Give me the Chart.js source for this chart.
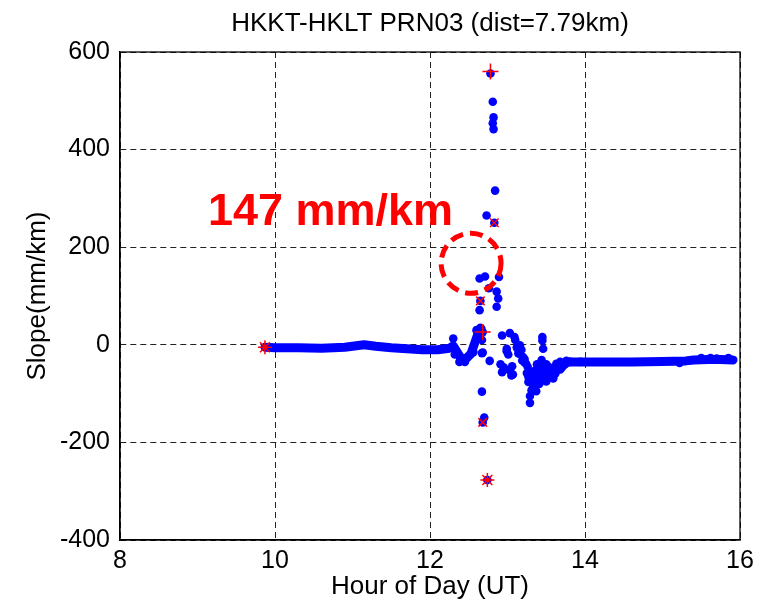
<!DOCTYPE html>
<html>
<head>
<meta charset="utf-8">
<script src="https://cdn.jsdelivr.net/npm/chart.js@4.4.0/dist/chart.umd.min.js"></script>
<style>
  html, body { margin: 0; padding: 0; background: #fff; }
  #wrap { width: 769px; height: 609px; }
</style>
</head>
<body>
<div id="wrap"><canvas id="myChart" width="769" height="609"></canvas></div>
<script>
// dense baseline trace before the event
const bandStartHours = [9.87, 10.0, 10.3, 10.6, 10.9, 11.05, 11.15, 11.3, 11.5, 11.7, 11.9, 12.1, 12.25, 12.3, 12.35, 12.4, 12.47, 12.53, 12.58, 12.63, 12.66];
const bandStartSlope = [-5, -6, -6, -7, -5, -2, 0, -3, -6, -8, -10, -10, -7, -2, -15, -28, -28, -18, 5, 28, 33];

// dense baseline trace after the event
const bandEndHours = [13.68, 13.72, 13.78, 13.9, 14.2, 14.6, 15.0, 15.3, 15.4, 15.6, 15.75, 15.91];
const bandEndSlope = [-50, -42, -35, -35, -35, -35, -34, -33, -31, -30, -30, -31];

// scattered single epochs
const scatterHours = [
    12.78, 12.81, 12.82, 12.81, 12.82, 12.84, 12.73, 12.83,
    12.64, 12.71, 12.89, 12.76, 12.86, 12.88, 12.65, 12.64, 12.86,
    12.68, 12.67, 12.67, 12.70, 12.68, 12.74,
    12.30, 12.32, 12.38, 12.45, 12.60, 12.65, 12.56, 12.68, 12.67,
    12.77, 12.93, 13.03, 13.09, 13.16, 12.99, 13.14, 13.22, 13.24, 12.95,
    12.93, 13.03, 13.07, 13.45, 13.45, 13.44, 13.27, 13.27, 13.35, 13.37,
    13.31, 13.40, 13.48, 13.55, 13.59, 13.55, 13.33, 13.31, 13.37, 13.29,
    13.29, 13.63, 13.68, 13.76, 12.99, 13.20, 13.05, 13.46, 13.46, 13.57,
    13.59, 13.72, 13.81, 13.94, 12.97, 13.10, 13.12, 13.18, 13.50, 13.52,
    13.42, 13.38, 13.62, 13.65, 13.26, 13.33, 13.41, 13.50, 13.60,
    13.36, 13.44, 13.53, 13.47, 13.58, 13.22,
    12.91, 13.01, 13.06, 13.13, 13.19, 13.25, 13.30, 13.39, 13.43, 13.54,
    15.22, 15.5, 15.62, 15.7, 15.85
];
const scatterSlope = [
    556, 498, 466, 454, 442, 316, 265, 250,
    136, 140, 139, 116, 109, 95, 90, 71, 78,
    26, -17, -96, -149, -159, -277,
    13, -20, -35, -35, 30, 35, -15, -16, 10,
    -33, 19, 24, 16, -1, -13, -18, -29, -39, -46,
    -56, -52, -61, 16, 9, -31, -66, -76, -76, -63,
    -56, -49, -46, -52, -66, -66, -83, -93, -95, -105,
    -119, -39, -35, -33, -8, -25, -63, -8, -59, -52,
    -69, -39, -35, -35, -50, 10, -5, -10, -40, -60,
    -55, -40, -58, -45, -45, -70, -80, -75, -55,
    -52, -68, -45, -72, -48, -36,
    -40, -20, -44, -8, -32, -58, -72, -64, -42, -58,
    -37, -27, -27, -28, -27
];

// red flagged epochs
const plusHours = [12.78, 12.68];
const plusSlope = [560, 26];
const crossHours = [12.83, 12.65, 12.68];
const crossSlope = [250, 90, -159];
const starHours = [12.74, 9.87];
const starSlope = [-277, -5];

const chartTitle = 'HKKT-HKLT PRN03 (dist=7.79km)';
const noteText = '147 mm/km';

function toPoints(xs, ys) {
    return xs.map((x, i) => ({ x: x, y: ys[i] }));
}

const fontFamily = "'Liberation Sans', Arial, sans-serif";

const frameAndNotes = {
    id: 'frameAndNotes',
    afterDatasetsDraw(chart) {
        const { ctx, chartArea, scales } = chart;
        ctx.save();
        // frame
        ctx.strokeStyle = '#000';
        ctx.lineWidth = 1.3;
        ctx.setLineDash([]);
        ctx.strokeRect(chartArea.left, chartArea.top, chartArea.right - chartArea.left, chartArea.bottom - chartArea.top);

        // dashed circle around the jump
        const cx = scales.x.getPixelForValue(12.53);
        const cy = scales.y.getPixelForValue(167);
        ctx.strokeStyle = '#FF0000';
        ctx.lineWidth = 5;
        ctx.setLineDash([13, 7]);
        ctx.beginPath();
        ctx.arc(cx, cy, 30, 0, Math.PI * 2);
        ctx.stroke();
        ctx.setLineDash([]);

        // annotation text
        ctx.fillStyle = '#FF0000';
        ctx.font = "bold 45px " + fontFamily;
        ctx.textAlign = 'left';
        ctx.textBaseline = 'alphabetic';
        ctx.fillText(noteText, scales.x.getPixelForValue(9.135), scales.y.getPixelForValue(245));
        ctx.restore();
    },
    afterDraw(chart) {
        const { ctx, chartArea } = chart;
        ctx.save();
        ctx.fillStyle = '#000';
        ctx.font = "26px " + fontFamily;
        ctx.textAlign = 'center';
        ctx.textBaseline = 'alphabetic';
        ctx.fillText(chartTitle, (chartArea.left + chartArea.right) / 2, 31);
        ctx.restore();
    }
};

const data = {
    datasets: [
        {
            label: 'plus',
            data: toPoints(plusHours, plusSlope),
            pointStyle: 'cross',
            pointRadius: 8,
            borderColor: '#FF0000',
            borderWidth: 1.5,
            showLine: false
        },
        {
            label: 'cross',
            data: toPoints(crossHours, crossSlope),
            pointStyle: 'crossRot',
            pointRadius: 6,
            borderColor: '#FF0000',
            borderWidth: 1.5,
            showLine: false
        },
        {
            label: 'star',
            data: toPoints(starHours, starSlope),
            pointStyle: 'star',
            pointRadius: 7,
            borderColor: '#FF0000',
            borderWidth: 1.5,
            showLine: false
        },
        {
            label: 'scatter',
            data: toPoints(scatterHours, scatterSlope),
            pointStyle: 'circle',
            pointRadius: 4.3,
            backgroundColor: '#0000FF',
            borderWidth: 0,
            showLine: false
        },
        {
            label: 'before',
            data: toPoints(bandStartHours, bandStartSlope),
            showLine: true,
            pointRadius: 0,
            borderColor: '#0000FF',
            borderWidth: 9,
            borderCapStyle: 'round',
            borderJoinStyle: 'round',
            tension: 0
        },
        {
            label: 'after',
            data: toPoints(bandEndHours, bandEndSlope),
            showLine: true,
            pointRadius: 0,
            borderColor: '#0000FF',
            borderWidth: 9,
            borderCapStyle: 'round',
            borderJoinStyle: 'round',
            tension: 0
        }
    ]
};

const config = {
    type: 'scatter',
    data: data,
    options: {
        responsive: false,
        animation: false,
        layout: { padding: { top: 52, right: 29, left: 0, bottom: 0 } },
        plugins: {
            legend: { display: false },
            tooltip: { enabled: false },
            title: { display: false }
        },
        scales: {
            x: {
                type: 'linear',
                min: 8,
                max: 16,
                ticks: { stepSize: 2, padding: 6, color: '#000', font: { family: fontFamily, size: 25 } },
                grid: { color: '#222', lineWidth: 1, drawTicks: false },
                border: { display: true, color: '#000', width: 1.3, dash: [6, 4] },
                title: { display: true, text: 'Hour of Day (UT)', color: '#000', padding: { top: 0, bottom: 7 }, font: { family: fontFamily, size: 26 } },
                afterFit(scale) { scale.height = 69; }
            },
            y: {
                type: 'linear',
                min: -400,
                max: 600,
                ticks: { stepSize: 200, padding: 10, color: '#000', font: { family: fontFamily, size: 25 } },
                grid: { color: '#222', lineWidth: 1, drawTicks: false },
                border: { display: true, color: '#000', width: 1.3, dash: [6, 4] },
                title: { display: true, text: 'Slope(mm/km)', color: '#000', padding: { top: 22, bottom: 0 }, font: { family: fontFamily, size: 26 } },
                afterFit(scale) { scale.width = 120; }
            }
        }
    },
    plugins: [frameAndNotes]
};

var myChart = new Chart(document.getElementById('myChart'), config);
</script>
</body>
</html>
